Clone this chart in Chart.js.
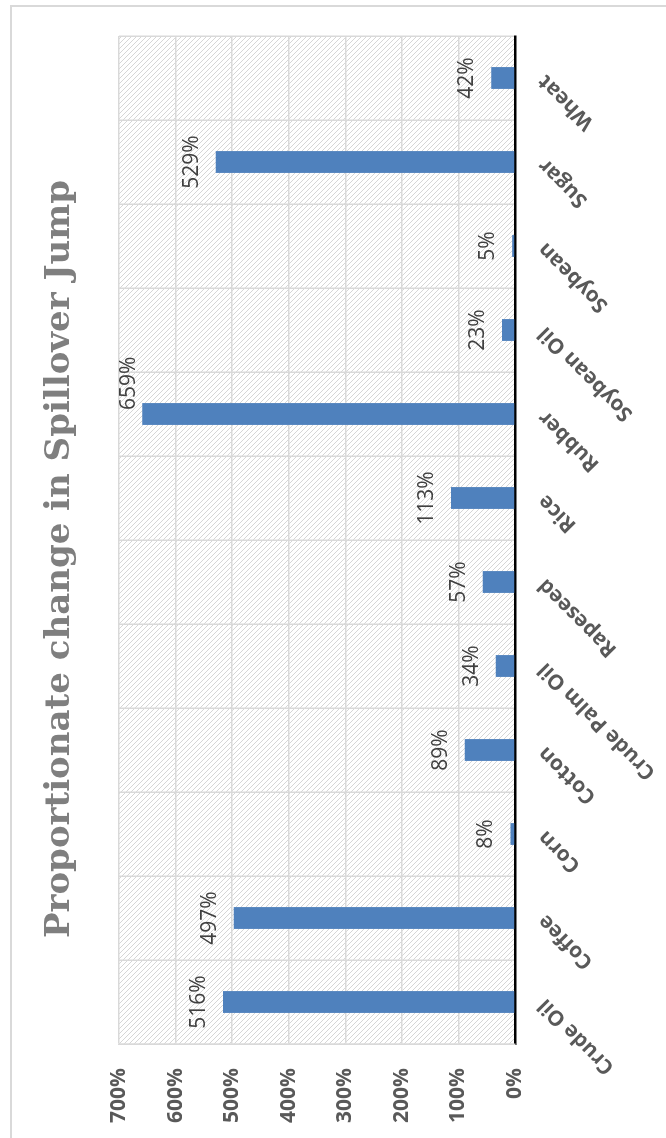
<!DOCTYPE html>
<html>
<head>
<meta charset="utf-8">
<script src="https://cdn.jsdelivr.net/npm/chart.js@4.4.1/dist/chart.umd.min.js"></script>
<style>
  html, body { margin: 0; padding: 0; background: #fff; }
  body { width: 666px; height: 1138px; overflow: hidden; position: relative; }
  /* chart is drawn upright, then turned a quarter to the left like the original */
  #wrap { position: absolute; left: -236px; top: 236px; width: 1138px; height: 666px; transform: rotate(-90deg); }
</style>
</head>
<body>
<div id="wrap"><canvas id="spillChart" width="1138" height="666"></canvas></div>
<script>
// Data
const categories = ["Crude Oil", "Coffee", "Corn", "Cotton", "Crude Palm Oil", "Rapeseed",
                    "Rice", "Rubber", "Soybean Oil", "Soybean", "Sugar", "Wheat"];
const changePct = [516, 497, 8, 89, 34, 57, 113, 659, 23, 5, 529, 42];
const axisMin = 0;
const axisMax = 700;
const axisStep = 100;
const chartTitle = "Proportionate change in Spillover Jump";

// light diagonal hatch used behind the bars
function hatchPattern(ctx) {
    const tile = document.createElement("canvas");
    tile.width = 5;
    tile.height = 5;
    const t = tile.getContext("2d");
    t.strokeStyle = "#d6d6d6";
    t.lineWidth = 1;
    t.beginPath();
    t.moveTo(0, 0); t.lineTo(5, 5);
    t.moveTo(-1, 4); t.lineTo(1, 6);
    t.moveTo(4, -1); t.lineTo(6, 1);
    t.stroke();
    return ctx.createPattern(tile, "repeat");
}

const backdrop = {
    id: "backdrop",
    beforeDraw(chart) {
        const { ctx, chartArea: a } = chart;
        ctx.save();
        ctx.fillStyle = "#fff";
        ctx.fillRect(0, 0, chart.width, chart.height);
        // outer chart frame (only two sides fall inside the picture)
        ctx.strokeStyle = "#d9d9d9";
        ctx.lineWidth = 2;
        ctx.beginPath();
        ctx.moveTo(0, 11);
        ctx.lineTo(1132, 11);
        ctx.lineTo(1132, chart.height);
        ctx.stroke();
        ctx.fillStyle = hatchPattern(ctx);
        ctx.fillRect(a.left, a.top, a.right - a.left, a.bottom - a.top);
        // title, sitting a little right of the canvas centre as in the source
        ctx.font = 'bold 34px "DejaVu Serif"';
        ctx.fillStyle = "#7f7f7f";
        ctx.textAlign = "center";
        ctx.textBaseline = "middle";
        ctx.fillText(chartTitle, 579, 60);
        ctx.restore();
    }
};

// value labels above each bar; a label that would leave the plot is pulled in and nudged aside
const barLabels = {
    id: "barLabels",
    afterDatasetsDraw(chart) {
        const ctx = chart.ctx;
        const meta = chart.getDatasetMeta(0);
        const top = chart.chartArea.top;
        ctx.save();
        ctx.font = '21px "Open Sans"';
        ctx.fillStyle = "#404040";
        ctx.textAlign = "center";
        ctx.textBaseline = "alphabetic";
        meta.data.forEach((bar, i) => {
            const text = changePct[i] + "%";
            let x = bar.x;
            let y = bar.y - 18;
            if (y - 16 < top) {
                y = top + 16;
                x += ctx.measureText(text).width / 2 + 4;
            }
            ctx.fillText(text, x, y);
        });
        ctx.restore();
    }
};

const chart = new Chart(document.getElementById("spillChart").getContext("2d"), {
    type: "bar",
    data: {
        labels: categories,
        datasets: [{
            data: changePct,
            backgroundColor: "#4f81bd",
            barPercentage: 0.26,
            categoryPercentage: 1
        }]
    },
    options: {
        responsive: false,
        animation: false,
        layout: { padding: { top: 119, right: 36, bottom: 0, left: 0 } },
        plugins: {
            legend: { display: false },
            tooltip: { enabled: false },
            title: { display: false }
        },
        scales: {
            x: {
                grid: { color: "#d9d9d9", lineWidth: 1.5, drawTicks: false, offset: true },
                border: { color: "#000", width: 2.5 },
                ticks: {
                    color: "#595959",
                    font: { family: "Open Sans", weight: "bold", size: 21 },
                    maxRotation: 45,
                    minRotation: 45,
                    autoSkip: false,
                    padding: 18
                },
                afterFit(scale) { scale.height = 151; }
            },
            y: {
                min: axisMin,
                max: axisMax,
                grid: { color: "#d9d9d9", lineWidth: 1.5, drawTicks: false },
                border: { color: "#d9d9d9", width: 1.5 },
                ticks: {
                    stepSize: axisStep,
                    color: "#595959",
                    font: { family: "Open Sans", weight: "bold", size: 21 },
                    padding: 24,
                    callback: (v) => v + "%"
                },
                afterFit(scale) { scale.width = 94; }
            }
        }
    },
    plugins: [backdrop, barLabels]
});
</script>
</body>
</html>
